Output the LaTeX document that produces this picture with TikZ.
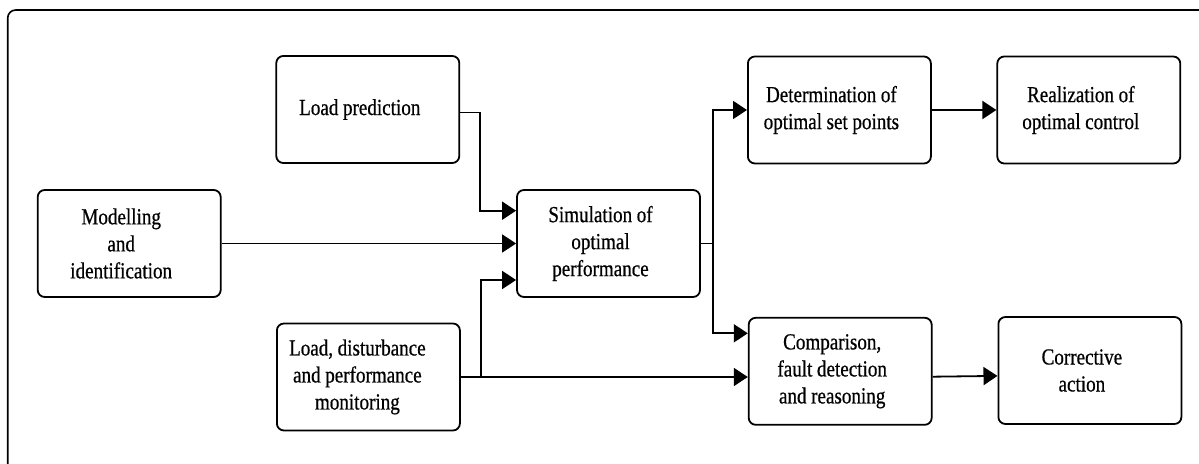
\documentclass[tikz,border=0pt]{standalone}
\usepackage{fontspec}
\setmainfont{Liberation Serif}[FakeStretch=0.83,FakeBold=0.6]
\usetikzlibrary{arrows.meta}
\newcommand{\tightsp}{\spaceskip=0.2em\xspaceskip=0.22em\relax}
\newcommand{\offctr}[1]{\leftskip=0pt plus 1fil\rightskip=#1 plus 1fil\parfillskip=0pt\tightsp}
\tikzset{
  blk/.style={draw,line width=1.8bp,rounded corners=7bp,minimum width=183bp,minimum height=107bp,inner sep=0pt,
    text width=183bp,align=center,execute at begin node={\offctr{16bp}},
    font=\fontsize{23bp}{27bp}\selectfont},
  blkl/.style={blk,text width=164bp,align=flush left,execute at begin node={\tightsp}},
  conn/.style={line width=1.8bp,->},
}
\begin{document}
\begin{tikzpicture}[>={Triangle[length=14bp,width=18bp]},line join=miter]
\useasboundingbox (0bp,0bp) rectangle (1199bp,464bp);
%%
\draw [line width=1.6bp,rounded corners=8bp] (7.7bp,-30bp) rectangle (1230bp,454bp);
%
\node (lp) at (367.8bp,354.5bp) [blkl,text width=150bp] {Load prediction};
  \node (mi) at (129.2bp,220.5bp) [blk] {Modelling\\and\\identification};
  \node (ld) at (368.4bp,87bp) [blk,execute at begin node={\offctr{22bp}}] {Load, disturbance\\and performance\\monitoring};
  \node (sim) at (608.5bp,220.5bp) [blk] {Simulation of\\optimal\\performance};
  \node (dsp) at (839.4bp,354bp) [blkl] {Determination of\\optimal set points};
  \node (roc) at (1088.8bp,354bp) [blk] {Realization of\\optimal control};
  \node (cfd) at (840.2bp,92.7bp) [blk] {Comparison,\\fault detection\\and reasoning};
  \node (ca) at (1089.9bp,93.5bp) [blk] {Corrective\\action};
%
\draw [conn] ([yshift=-3bp]lp.east) -- ++(20bp,0bp) |- ([yshift=32.8bp]sim.west);
  \draw [conn] (mi.east) -- (sim.west);
  \draw [conn] (ld.east) -- ++(20bp,0bp) |- ([yshift=-36.5bp]sim.west);
  \draw [conn] (ld.east) -- (ld.east -| cfd.west);
  \draw [conn] (sim.east) -- ++(11.8bp,0bp) |- (dsp.west);
  \draw [conn] (sim.east) -- ++(11.8bp,0bp) |- ([yshift=38bp]cfd.west);
  \draw [conn] (dsp.east) -- (roc.west);
  \draw [conn] ([yshift=-5.4bp]cfd.east) -- ([yshift=-5.4bp]ca.west);
%
\end{tikzpicture}
\end{document}
